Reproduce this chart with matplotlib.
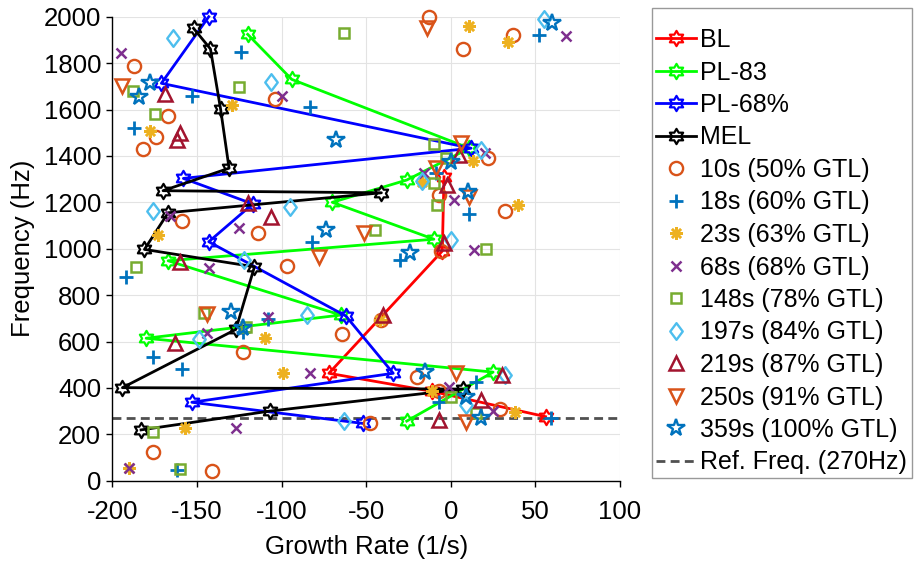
import numpy as np
import matplotlib
matplotlib.use("Agg")
import matplotlib.pyplot as plt
from matplotlib.path import Path
from matplotlib.patches import Rectangle

plt.rcParams['font.family'] = ['Liberation Sans', 'DejaVu Sans']
plt.rcParams['axes.unicode_minus'] = False

# ---------------- data ----------------
bl_x = [56, -11, -72, -5, -4]
bl_f = [276, 385, 463, 990, 1310]

pl83_x = [-26, 25, -180, -65, -167, -10, -70, -26, 11, -94, -120]
pl83_f = [257, 468, 614, 714, 948, 1041, 1200, 1296, 1433, 1730, 1924]

pl68_x = [-52, -153, -34, -62, -143, -117, -158, 12, -171, -143]
pl68_f = [247, 338, 463, 710, 1030, 1193, 1303, 1433, 1713, 2000]

mel_x = [-183, -107, 7, -194, -127, -116, -181, -167, -41, -170, -131, -136, -142, -152]
mel_f = [219, 300, 395, 401, 652, 922, 997, 1155, 1241, 1250, 1347, 1601, 1861, 1950]

s10_x = [-13, 37, 7, -187, -167, -174, -182, -104, 22, -159, -114, 32, -7, -6, -97, -64, -41, -123, -20, -7, 29, -48, -176, -141]
s10_f = [2000, 1921, 1859, 1789, 1572, 1480, 1428, 1644, 1390, 1121, 1069, 1161, 1231, 991, 927, 632, 693, 553, 448, 388, 308, 247, 124, 43]

s18_x = [52, -124, -153, -83, -187, -9, 11, -82, -30, -192, -176, -159, -108, -123, 15, -7, 59, -162]
s18_f = [1921, 1849, 1660, 1609, 1522, 1325, 1150, 1030, 951, 877, 532, 480, 697, 642, 427, 340, 269, 45]

s23_x = [11, 34, -129, -178, 13, -17, 40, -173, -110, -99, -42, -11, 38, -157, -190]
s23_f = [1960, 1890, 1618, 1509, 1378, 1289, 1188, 1059, 616, 463, 693, 388, 295, 226, 53]

s68_x = [68, -195, -100, 20, -16, 2, 14, -166, -125, -143, -144, -108, -83, -1, 25, -127, -190]
s68_f = [1918, 1842, 1658, 1414, 1325, 1210, 994, 1141, 1088, 915, 638, 704, 466, 403, 300, 226, 53]

s148_x = [-63, -125, -188, -175, -10, -3, -10, -8, 21, -45, -186, -146, -121, 0, 15, -176, -160]
s148_f = [1928, 1698, 1681, 1579, 1451, 1390, 1282, 1188, 997, 1081, 922, 722, 661, 362, 290, 211, 49]

s197_x = [55, -164, -106, 18, -17, -176, -95, 0, -122, -85, -149, 32, 9, -63]
s197_f = [1989, 1909, 1720, 1425, 1293, 1163, 1181, 1037, 951, 714, 609, 456, 326, 257]

s219_x = [-169, -160, -162, 5, -2, -120, -106, -4, -160, -163, -40, 30, 18, -7]
s219_f = [1665, 1497, 1469, 1404, 1275, 1196, 1138, 1023, 944, 595, 714, 456, 348, 262]

s250_x = [-14, -194, 6, -9, 11, -51, -78, -144, 3, 9]
s250_f = [1950, 1701, 1454, 1347, 1224, 1066, 966, 719, 463, 254]

s359_x = [60, -178, -184, -68, 0, 10, -74, -24, -130, -123, -15, 9, 18]
s359_f = [1971, 1713, 1655, 1469, 1375, 1246, 1081, 980, 728, 657, 470, 362, 269]

ref_freq = 270

line_labels = ['BL', 'PL-83', 'PL-68%', 'MEL']
scatter_labels = ['10s (50% GTL)', '18s (60% GTL)', '23s (63% GTL)', '68s (68% GTL)',
                  '148s (78% GTL)', '197s (84% GTL)', '219s (87% GTL)', '250s (91% GTL)',
                  '359s (100% GTL)']
ref_label = 'Ref. Freq. (270Hz)'

xticks = [-200, -150, -100, -50, 0, 50, 100]
yticks = [0, 200, 400, 600, 800, 1000, 1200, 1400, 1600, 1800, 2000]

# ---------------- styling ----------------
hexagram = Path.unit_regular_star(6, 1 / np.sqrt(3))
diamond = Path([(0, 1), (0.75, 0), (0, -1), (-0.75, 0), (0, 1)],
               [Path.MOVETO, Path.LINETO, Path.LINETO, Path.LINETO, Path.CLOSEPOLY])

W, H = 914, 562
fig = plt.figure(figsize=(W / 100, H / 100), dpi=100)
ax = fig.add_axes([112.3 / W, 1 - 480.7 / H, (620 - 112.3) / W, (480.7 - 16.7) / H])

line_series = [(bl_x, bl_f, '#FF0000'), (pl83_x, pl83_f, '#00FF00'),
               (pl68_x, pl68_f, '#0000FF'), (mel_x, mel_f, '#000000')]
for (xs, fs, c), lab in zip(line_series, line_labels):
    ax.plot(xs, fs, color=c, lw=2.0, marker=hexagram, ms=11, mfc='none', mec=c, mew=1.6,
            label=lab, clip_on=False, zorder=3)

scatter_series = [
    (s10_x, s10_f, 'o', '#D95319', 9.5, 1.7),
    (s18_x, s18_f, '+', '#0072BD', 10, 2.0),
    (s23_x, s23_f, (8, 2, 0), '#EDB120', 9, 1.8),
    (s68_x, s68_f, 'x', '#7E2F8E', 7, 1.8),
    (s148_x, s148_f, 's', '#77AC30', 7.5, 1.8),
    (s197_x, s197_f, diamond, '#4DBEEE', 12, 1.7),
    (s219_x, s219_f, '^', '#A2142F', 10.5, 1.8),
    (s250_x, s250_f, 'v', '#D95319', 10.5, 1.8),
    (s359_x, s359_f, '*', '#0072BD', 13, 1.7),
]
for (xs, fs, m, c, ms, mew), lab in zip(scatter_series, scatter_labels):
    ax.plot(xs, fs, linestyle='none', marker=m, ms=ms, mfc='none', mec=c, mew=mew,
            label=lab, clip_on=False, zorder=4)

ax.axhline(ref_freq, color='#505050', lw=2.0, ls=(0, (3.2, 1.9)), label=ref_label, zorder=2)

ax.set_xlim(-200, 100)
ax.set_ylim(0, 2000)
ax.set_xticks(xticks)
ax.set_yticks(yticks)
ax.tick_params(direction='out', length=4, width=1, labelsize=18.5)
ax.tick_params(axis='x', pad=10)
ax.tick_params(axis='y', pad=4)
ax.grid(True, color='#E3E3E3', lw=0.8, zorder=0)
ax.set_axisbelow(True)
for s in ['top', 'right']:
    ax.spines[s].set_visible(False)
for s in ['left', 'bottom']:
    ax.spines[s].set_linewidth(1.0)
ax.set_xlabel('Growth Rate (1/s)', fontsize=18.5, labelpad=8)
ax.set_ylabel('Frequency (Hz)', fontsize=18.5, labelpad=6)

leg = ax.legend(loc='upper left', bbox_to_anchor=(656 / W, 1 - 28 / H),
                bbox_transform=fig.transFigure, fontsize=18, frameon=False,
                borderaxespad=0, borderpad=0, labelspacing=0.34, handlelength=1.6,
                handletextpad=0.15, numpoints=1)

fig.patches.append(Rectangle((652 / W, 1 - 478 / H), (912 - 652) / W, (478 - 8) / H,
                             transform=fig.transFigure, fill=False, edgecolor='#999999',
                             lw=1.0, zorder=5))

fig.savefig('out.png', dpi=100)
